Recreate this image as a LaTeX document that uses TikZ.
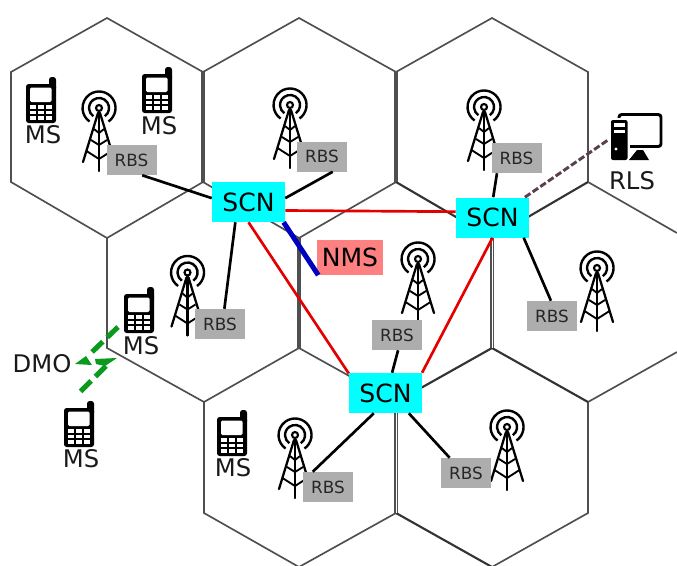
\documentclass[tikz,border=0pt]{standalone}
\usepackage{fontspec}
\setmainfont{DejaVu Sans}
\definecolor{hexgray}{HTML}{4F4F4F}
\definecolor{rbsgray}{HTML}{ADADAD}
\definecolor{scncyan}{HTML}{00FFFF}
\definecolor{nmsred}{HTML}{FF8080}
\definecolor{dmogreen}{HTML}{0A9A1E}
\definecolor{rlsline}{HTML}{5A3F50}
\tikzset{
hexline/.style={draw=hexgray,line width=1.25pt,line join=miter},
hexdark/.style={draw=black!80,line width=1.6pt,line join=miter},
hexthick/.style={draw=hexgray,line width=2.6pt},
hexdouble/.style={draw=hexgray,line width=1.2pt,double=white,double distance=0.7pt},
scnbox/.style={fill=scncyan,minimum width=54.75pt,minimum height=30pt,inner sep=0pt,font=\fontsize{18.8}{20}\selectfont},
rbsbox/.style={fill=rbsgray,minimum width=37.5pt,minimum height=22.5pt,inner sep=0pt,font=\fontsize{12.6}{14}\selectfont,text=black!85},
nmsbox/.style={fill=nmsred,minimum width=49.5pt,minimum height=26pt,inner sep=0pt,font=\fontsize{18.8}{20}\selectfont},
bigtext/.style={inner sep=0pt,font=\fontsize{18.2}{20}\selectfont,text=black!90},
rbslink/.style={draw=black,line width=2pt},
scnlink/.style={draw=red!90!black,line width=2pt},
nmslink/.style={draw=blue!75!black,line width=3.75pt},
rlslink/.style={draw=rlsline,line width=2.2pt,dash pattern=on 5pt off 2pt},
dmolink/.style={draw=dmogreen,line width=3.8pt,dash pattern=on 11.2pt off 4.6pt},
tower/.pic={
\draw[line width=1.6pt] (0,0) circle (3);
\draw[line width=1.8pt] (5.8,8.2) arc[start angle=55,end angle=-235,radius=10];
\draw[line width=1.8pt] (9.5,13.5) arc[start angle=55,end angle=-235,radius=16.5];
\draw[line width=1.6pt,line cap=round] (0,4)--(0,63);
\draw[line width=1.7pt,line cap=round,line join=round] (-16,54)--(-1,5)--(1,5)--(16,54);
\draw[line width=1.4pt] (-5,21)--(0,25)--(5,21);
\draw[line width=1.4pt] (-8,32)--(0,37)--(8,32);
\draw[line width=1.4pt] (-12.5,43)--(0,51)--(12.5,43);
},
phone/.pic={
\fill[black,rounded corners=2pt] (23,0) rectangle (30,14);
\fill[black,rounded corners=2pt] (0,7) rectangle (30,46);
\fill[white,rounded corners=1pt] (4,10.5) rectangle (25.5,25);
\fill[white] (4,27.5) rectangle (26,42.5);
\draw[line width=1.5pt] (4,32.5)--(26,32.5);
\draw[line width=1.5pt] (4,37.5)--(26,37.5);
\draw[line width=1.5pt] (11.3,27)--(11.3,43);
\draw[line width=1.5pt] (18.7,27)--(18.7,43);
},
computer/.pic={
\draw[line width=2.2pt,rounded corners=2pt] (8,1.5) rectangle (50,33.5);
\fill[white] (0,5) rectangle (18.5,47);
\fill[black,rounded corners=1.5pt] (0,7) rectangle (16.5,47);
\fill[white] (3,10) rectangle (14,13.5);
\fill[white] (3,16.5) rectangle (14,20);
\fill[white] (5,36) circle (1.6);
\fill[black] (18,47)--(26,37)--(32,37)--(38,47)--cycle;
}
}
\begin{document}
\begin{tikzpicture}[x=0.75pt,y=-0.75pt]
\useasboundingbox (0,0) rectangle (677,565);
\draw[hexline] (588,182)--(588,72)--(492,18)--(396,72)--(299,18)--(203,72)--(107,18)--(11,72)--(11,182)--(107,238)--(203,182);
\draw[hexline] (203,182)--(299,238)--(396,182);
\draw[hexline] (588,182)--(677,233);
\draw[hexline] (107,238)--(107,348)--(204,402)--(299,348)--(396,402);
\draw[hexline] (588,402)--(677,352);
\draw[hexline] (588,402)--(588,513)--(492,567);
\draw[hexline] (396,513)--(299,567)--(204,513)--(204,402);
\draw[hexdark] (396,182)--(492,238)--(588,182);
\draw[hexdark] (396,402)--(492,348)--(588,402);
\draw[hexdark] (396,513)--(492,567);
\draw[hexthick] (203,72)--(203,182);
\draw[hexthick] (396,72)--(396,182);
\draw[hexthick] (299,238)--(299,348);
\draw[hexdouble] (492,238)--(492,348);
\draw[hexdouble] (396,402)--(396,513);
\pic at (99,108) {tower};
\pic at (290,105) {tower};
\pic at (484,107) {tower};
\pic at (187.5,272.5) {tower};
\pic at (418,259) {tower};
\pic at (597,268) {tower};
\pic at (295,435) {tower};
\pic at (507,427) {tower};
\pic at (26,77) {phone};
\pic at (142,67) {phone};
\pic at (124,287) {phone};
\pic at (64,401) {phone};
\pic at (217,410) {phone};
\pic at (611,113) {computer};
\node[scnbox] (scnA) at (248.5,202) {SCN};
\node[scnbox] (scnB) at (492.5,217.5) {SCN};
\node[scnbox] (scnC) at (385.5,393) {SCN};
\node[rbsbox] (rbsA) at (131.5,160) {RBS};
\node[rbsbox] (rbsB) at (322,156.5) {RBS};
\node[rbsbox] (rbsC) at (516.5,158) {RBS};
\node[rbsbox] (rbsD) at (220,324) {RBS};
\node[rbsbox] (rbsE) at (397,335) {RBS};
\node[rbsbox] (rbsF) at (552,316) {RBS};
\node[rbsbox] (rbsG) at (328,487) {RBS};
\node[rbsbox] (rbsH) at (466,473) {RBS};
\node[nmsbox] (nms) at (350,257.5) {NMS};
\node[bigtext] (msA) at (43,135) {MS};
\node[bigtext] (msB) at (159,126) {MS};
\node[bigtext] (msC) at (141,346) {MS};
\node[bigtext] (msD) at (81,459) {MS};
\node[bigtext] (msE) at (233,468) {MS};
\node[bigtext] (dmo) at (42,364) {DMO};
\node[bigtext] (rls) at (632,181) {RLS};
\coordinate (rlsPort) at (608,140);
\coordinate (dmoA) at (118,327);
\coordinate (dmoB) at (91,353);
\coordinate (dmoC) at (106,366);
\coordinate (dmoD) at (78,394);
\draw[rbslink] (rbsA.-55)--(scnA.174);
\draw[rbslink] (rbsB.-55)--(scnA.6);
\draw[rbslink] (scnA.-123)--(rbsD.74);
\draw[rbslink] (scnB.88)--(rbsC.-142);
\draw[rbslink] (scnB.-33)--(rbsF.94);
\draw[rbslink] (scnC.72)--(rbsE.-86);
\draw[rbslink] (scnC.-120)--(rbsG.135);
\draw[rbslink] (scnC.-41)--(rbsH.137);
\draw[scnlink] (scnA.-13)--(scnB.171);
\draw[scnlink] (scnA.-90)--(scnC.152);
\draw[scnlink] (scnB.-90)--(scnC.29);
\draw[nmslink] (scnA.-30)--(nms.-151);
\draw[rlslink] (scnB.32)--(rlsPort);
\draw[dmolink] (dmoA)--(dmoB);
\draw[dmolink] (dmoC)--(dmoD);
\fill[dmogreen] (75,364)--(86,356)--(92,365)--cycle;
\fill[dmogreen] (95,359)--(117,358)--(105,366)--(96,364)--cycle;
\end{tikzpicture}
\end{document}
